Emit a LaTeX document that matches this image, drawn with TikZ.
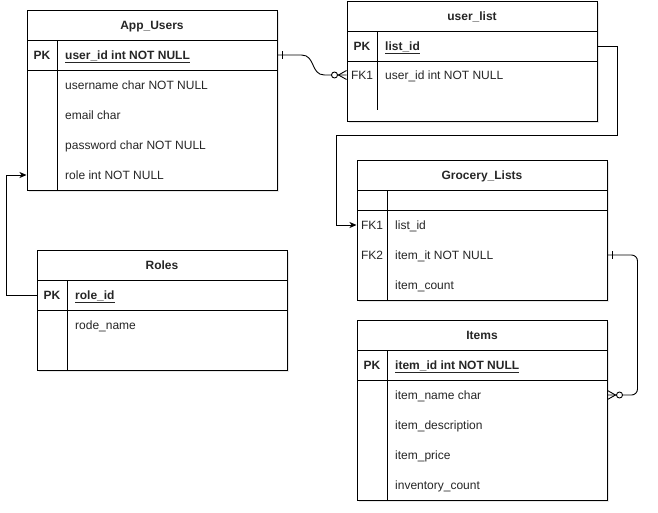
\documentclass[tikz,border=0pt]{standalone}
\usepackage{fontspec}
\setmainfont{Liberation Sans}
\usetikzlibrary{arrows.meta,shadows}
\begin{document}
\begin{tikzpicture}[x=1pt,y=-1pt,
    tbl/.style={draw, fill=white, line width=1pt, minimum width=250pt, inner sep=0pt,
      drop shadow={opacity=0.18, shadow xshift=2pt, shadow yshift=-2pt}},
    txt/.style={font=\fontsize{12}{14}\selectfont, text=black!85, inner sep=0pt,
      text height=10pt, text depth=2pt},
    head/.style={txt, font=\fontsize{12}{14}\selectfont\bfseries},
    field/.style={txt, anchor=west},
    pkfield/.style={head, anchor=west},
    sep/.style={line width=1pt},
    link/.style={line width=0.9pt},
    tip/.style={-{Stealth[length=7pt,width=6pt,inset=2pt]}}
  ]
      \useasboundingbox (0,0) rectangle (658,512);

      \node[tbl, minimum height=180pt] (appusers) at (152,100) {};
      \node[tbl, minimum height=120pt] (userlist) at (472,61) {};
      \node[tbl, minimum height=140pt] (grocery) at (482,230) {};
      \node[tbl, minimum height=120pt] (roles) at (162,310) {};
      \node[tbl, minimum height=180pt] (items) at (482,410) {};

      \draw[sep] (27,40) -- (277,40);
      \draw[sep] (27,70) -- (277,70);
      \draw[sep] (57,40) -- (57,190);

      \draw[sep] (347,31) -- (597,31);
      \draw[sep] (347,61) -- (597,61);
      \draw[sep] (377,31) -- (377,110);

      \draw[sep] (357,190) -- (607,190);
      \draw[sep] (357,210) -- (607,210);
      \draw[sep] (387,190) -- (387,300);

      \draw[sep] (37,280) -- (287,280);
      \draw[sep] (37,310) -- (287,310);
      \draw[sep] (67,280) -- (67,370);

      \draw[sep] (357,350) -- (607,350);
      \draw[sep] (357,380) -- (607,380);
      \draw[sep] (387,350) -- (387,500);

        \node[head] (au-title) at (152,25) {App\_Users};
        \node[head] (au-pk) at (42,55) {PK};
        \node[pkfield] (au-uid) at (65,55) {\underline{user\_id int NOT NULL}};
        \node[field] (au-uname) at (65,85) {username char NOT NULL};
        \node[field] (au-mail) at (65,115) {email char};
        \node[field] (au-pass) at (65,145) {password char NOT NULL};
        \node[field] (au-role) at (65,175) {role int NOT NULL};

        \node[head] (ul-title) at (472,16) {user\_list};
        \node[head] (ul-pk) at (362,46) {PK};
        \node[pkfield] (ul-lid) at (385,46) {\underline{list\_id}};
        \node[txt] (ul-fk) at (362,75) {FK1};
        \node[field] (ul-uid) at (385,75) {user\_id int NOT NULL};

        \node[head] (gl-title) at (482,175) {Grocery\_Lists};
        \node[txt] (gl-fk1) at (372,225) {FK1};
        \node[field] (gl-lid) at (395,225) {list\_id};
        \node[txt] (gl-fk2) at (372,255) {FK2};
        \node[field] (gl-iit) at (395,255) {item\_it NOT NULL};
        \node[field] (gl-cnt) at (395,285) {item\_count};

        \node[head] (ro-title) at (162,265) {Roles};
        \node[head] (ro-pk) at (52,295) {PK};
        \node[pkfield] (ro-rid) at (75,295) {\underline{role\_id}};
        \node[field] (ro-name) at (75,325) {rode\_name};

        \node[head] (it-title) at (482,335) {Items};
        \node[head] (it-pk) at (372,365) {PK};
        \node[pkfield] (it-iid) at (395,365) {\underline{item\_id int NOT NULL}};
        \node[field] (it-name) at (395,395) {item\_name char};
        \node[field] (it-desc) at (395,425) {item\_description};
        \node[field] (it-price) at (395,455) {item\_price};
        \node[field] (it-inv) at (395,485) {inventory\_count};

      \coordinate (au-out) at (appusers.east |- au-uid);
      \coordinate (ul-in) at (userlist.west |- ul-uid);
      \coordinate (ul-out) at (userlist.east |- ul-lid);
      \coordinate (gl-in) at (grocery.west |- gl-lid);
      \coordinate (ro-out) at (roles.west |- ro-rid);
      \coordinate (au-in) at (appusers.west |- au-role);
      \coordinate (gl-out) at (grocery.east |- gl-iit);
      \coordinate (it-in) at (items.east |- it-name);

      \draw[link] (au-out) -- ++(24,0) .. controls +(14,0) and +(-14,0) .. ([xshift=-22pt]ul-in) -- (ul-in);
      \draw[link] ([xshift=5pt,yshift=4pt]au-out) -- ([xshift=5pt,yshift=-4pt]au-out);
      \draw[link] ([yshift=4.5pt]ul-in) -- ([xshift=-8pt]ul-in) -- ([yshift=-4.5pt]ul-in);
      \draw[link, fill=white] ([xshift=-12pt]ul-in) circle (3pt);

      \draw[link, tip] (ul-out) -- ++(20,0) -- ++(0,89) -| ([xshift=-20pt]gl-in) -- (gl-in);

      \draw[link, tip] (ro-out) -- ++(-30,0) |- (au-in);

      \draw[link, rounded corners=6pt] (gl-out) -- ++(30,0) |- (it-in);
      \draw[link] ([xshift=5pt,yshift=4pt]gl-out) -- ([xshift=5pt,yshift=-4pt]gl-out);
      \draw[link] ([yshift=4.5pt]it-in) -- ([xshift=8pt]it-in) -- ([yshift=-4.5pt]it-in);
      \draw[link, fill=white] ([xshift=12pt]it-in) circle (3pt);

\end{tikzpicture}
\end{document}
